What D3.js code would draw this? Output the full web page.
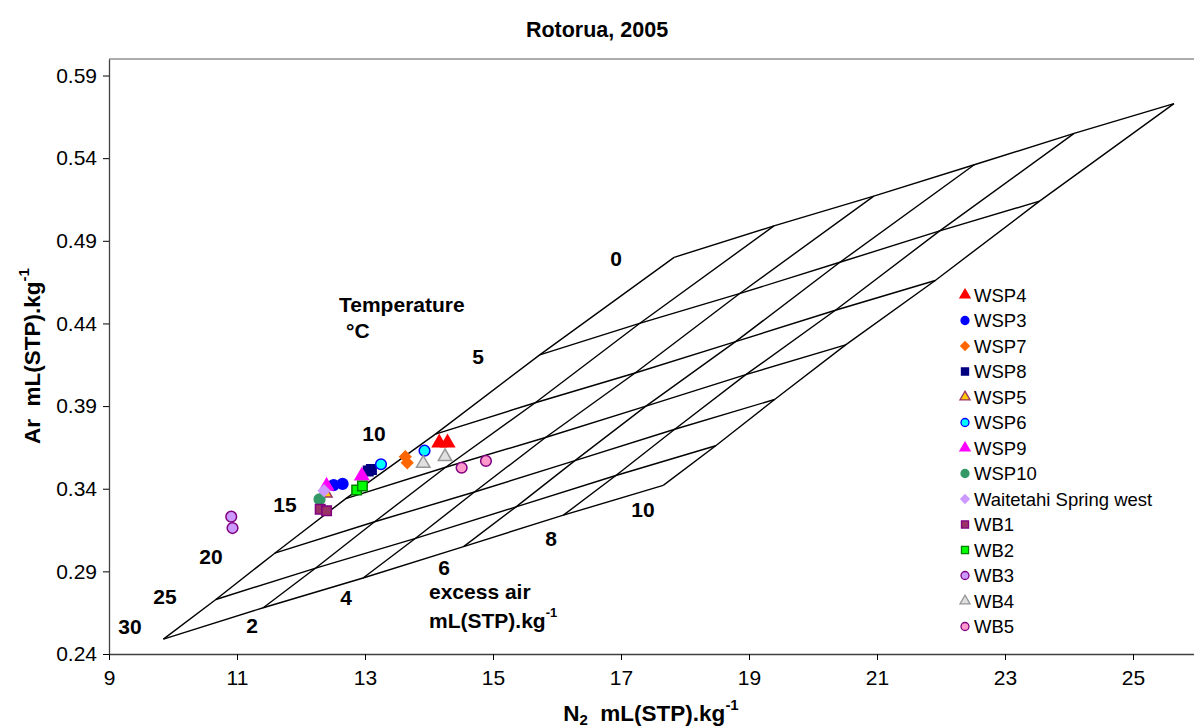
<!DOCTYPE html>
<html>
<head>
<meta charset="utf-8">
<script src="https://d3js.org/d3.v7.min.js"></script>
<style>
  body { margin: 0; background: #fff; }
  text { font-family: "Liberation Sans", Arial, sans-serif; white-space: pre; }
</style>
</head>
<body>
<svg id="chart" width="1194" height="727"></svg>
<script>
// grid: temperature (rows) x excess air (columns)
var tempC = [0, 5, 10, 15, 20, 25, 30];
var excessAir = [0, 2, 4, 6, 8, 10];
var n2Grid = [
  [17.83, 19.39, 20.95, 22.52, 24.08, 25.64],
  [15.73, 17.29, 18.85, 20.42, 21.98, 23.54],
  [14.10, 15.66, 17.22, 18.79, 20.35, 21.91],
  [12.70, 14.26, 15.82, 17.39, 18.95, 20.51],
  [11.59, 13.15, 14.71, 16.28, 17.84, 19.40],
  [10.67, 12.23, 13.79, 15.36, 16.92, 18.48],
  [9.85, 11.41, 12.97, 14.54, 16.10, 17.66]
];
var arGrid = [
  [0.480, 0.499, 0.517, 0.536, 0.555, 0.573],
  [0.421, 0.440, 0.458, 0.477, 0.496, 0.514],
  [0.373, 0.392, 0.410, 0.429, 0.448, 0.466],
  [0.334, 0.353, 0.371, 0.390, 0.409, 0.427],
  [0.301, 0.320, 0.338, 0.357, 0.376, 0.394],
  [0.273, 0.292, 0.310, 0.329, 0.348, 0.366],
  [0.249, 0.268, 0.286, 0.305, 0.324, 0.342]
];

// samples
var seriesNames = ["WSP4", "WSP3", "WSP7", "WSP8", "WSP5", "WSP6", "WSP9", "WSP10",
  "Waitetahi Spring west", "WB1", "WB2", "WB3", "WB4", "WB5"];
var seriesN2 = [
  [14.16, 14.29],
  [12.51, 12.65],
  [13.63, 13.66],
  [13.05, 13.10],
  [12.38],
  [13.93, 13.25],
  [12.95, 12.40],
  [12.29],
  [12.36],
  [12.30, 12.40],
  [12.87, 12.96],
  [10.91, 10.93],
  [13.91, 14.25],
  [14.51, 14.89]
];
var seriesAr = [
  [0.3678, 0.3678],
  [0.3422, 0.3429],
  [0.3594, 0.3557],
  [0.3507, 0.3517],
  [0.3374],
  [0.3630, 0.3548],
  [0.3477, 0.3416],
  [0.3336],
  [0.3388],
  [0.3276, 0.3267],
  [0.3392, 0.3416],
  [0.3231, 0.3162],
  [0.3554, 0.3594],
  [0.3527, 0.3568]
];

var xTicks = [9, 11, 13, 15, 17, 19, 21, 23, 25];
var yTicks = [0.24, 0.29, 0.34, 0.39, 0.44, 0.49, 0.54, 0.59];

// marker styles
var styles = {
  "WSP4": {shape: "tri", fill: "#FF0000", stroke: "#FF0000"},
  "WSP3": {shape: "circle", fill: "#0000FF", stroke: "#0000FF"},
  "WSP7": {shape: "diamond", fill: "#FF6600", stroke: "#FF6600"},
  "WSP8": {shape: "square", fill: "#000080", stroke: "#000080"},
  "WSP5": {shape: "tri", fill: "#FFCC00", stroke: "#993366"},
  "WSP6": {shape: "circle", fill: "#00FFFF", stroke: "#0000FF"},
  "WSP9": {shape: "tri", fill: "#FF00FF", stroke: "#FF00FF"},
  "WSP10": {shape: "circle", fill: "#339966", stroke: "#339966"},
  "Waitetahi Spring west": {shape: "diamond", fill: "#CC99FF", stroke: "#CC99FF"},
  "WB1": {shape: "square", fill: "#993366", stroke: "#800080"},
  "WB2": {shape: "square", fill: "#00FF00", stroke: "#008000"},
  "WB3": {shape: "circle", fill: "#CC99FF", stroke: "#800080"},
  "WB4": {shape: "tri", fill: "#E0E0E0", stroke: "#969696"},
  "WB5": {shape: "circle", fill: "#FF99CC", stroke: "#800080"}
};

var svg = d3.select("#chart");

var x = d3.scaleLinear().domain([9, 26]).range([109, 1197]);
var y = d3.scaleLinear().domain([0.24, 0.60]).range([654, 59]);

// plot frame top
svg.append("line")
  .attr("x1", x(9)).attr("x2", 1194)
  .attr("y1", y(0.60)).attr("y2", y(0.60))
  .attr("stroke", "#909090").attr("stroke-width", 1.5);

// axes
var xAxis = svg.append("g")
  .attr("transform", "translate(0," + y(0.24) + ")")
  .call(d3.axisBottom(x).tickValues(xTicks).tickSize(6).tickSizeOuter(0).tickFormat(d3.format("d")));
var yAxis = svg.append("g")
  .attr("transform", "translate(" + x(9) + ",0)")
  .call(d3.axisLeft(y).tickValues(yTicks).tickSize(6).tickSizeOuter(0).tickFormat(d3.format(".2f")));

[xAxis, yAxis].forEach(function(a) {
  a.select(".domain").attr("stroke", "#404040").attr("stroke-width", 1.3);
  a.selectAll(".tick line").attr("stroke", "#000");
  a.selectAll(".tick text").attr("fill", "#000").style("font-size", "21px")
    .style("font-family", "'Liberation Sans', Arial, sans-serif");
});
xAxis.selectAll(".tick text").attr("dy", "1.05em");
yAxis.selectAll(".tick text").attr("x", -12);
xAxis.select(".domain").attr("d", "M" + x(9) + ",0.5H1194");

// grid lines
var line = d3.line().x(function(d) { return x(d[0]); }).y(function(d) { return y(d[1]); });
var grid = svg.append("g").attr("fill", "none").attr("stroke", "#000").attr("stroke-width", 1.4);
tempC.forEach(function(t, i) {
  grid.append("path").attr("d", line(excessAir.map(function(e, j) { return [n2Grid[i][j], arGrid[i][j]]; })));
});
excessAir.forEach(function(e, j) {
  grid.append("path").attr("d", line(tempC.map(function(t, i) { return [n2Grid[i][j], arGrid[i][j]]; })));
});

// grid annotations
var ann = svg.append("g").style("font-weight", "bold").style("font-size", "21px").attr("fill", "#000");
function label(txt, px, py, anchor) {
  return ann.append("text").attr("x", px).attr("y", py).attr("text-anchor", anchor || "middle")
    .attr("dominant-baseline", "central").text(txt);
}
var tLabelPos = [[616, 258], [478, 356], [374, 433], [285, 504], [211, 556], [165, 596], [130, 626]];
tempC.forEach(function(t, i) { label(String(t), tLabelPos[i][0], tLabelPos[i][1]); });
var eLabelPos = [null, [252, 625], [346, 597], [444, 567], [551, 538], [643, 509]];
excessAir.forEach(function(e, j) { if (eLabelPos[j]) label(String(e), eLabelPos[j][0], eLabelPos[j][1]); });
label("Temperature", 339, 304, "start");
label("\u00B0C", 346, 330, "start");
label("excess air", 429, 591, "start");
var ea = ann.append("text").attr("x", 429).attr("y", 620).attr("dominant-baseline", "central");
ea.append("tspan").text("mL(STP).kg");
ea.append("tspan").text("-1").attr("dy", -8).style("font-size", "13px");

// markers
function symbolFor(shape, size) {
  var t = shape === "tri" ? d3.symbolTriangle : shape === "circle" ? d3.symbolCircle : d3.symbolSquare;
  return d3.symbol().type(t).size(size)();
}
function markerSize(shape, big) {
  if (shape === "diamond") return big ? 62 : 36;
  if (shape === "tri") return big ? 78 : 44;
  if (shape === "square") return big ? 90 : 50;
  return big ? 90 : 50;
}
var pts = svg.append("g");
seriesNames.forEach(function(name, s) {
  var st = styles[name];
  seriesN2[s].forEach(function(n, k) {
    pts.append("path")
      .attr("d", symbolFor(st.shape, markerSize(st.shape, true)))
      .attr("transform", "translate(" + x(n) + "," + y(seriesAr[s][k]) + ")" + (st.shape === "diamond" ? " rotate(45)" : ""))
      .attr("fill", st.fill).attr("stroke", st.stroke).attr("stroke-width", 1.5);
  });
});

// legend
var leg = svg.append("g");
seriesNames.forEach(function(name, s) {
  var st = styles[name];
  var ly = 295 + s * 25.5;
  leg.append("path")
    .attr("d", symbolFor(st.shape, markerSize(st.shape, false)))
    .attr("transform", "translate(965," + ly + ")" + (st.shape === "diamond" ? " rotate(45)" : ""))
    .attr("fill", st.fill).attr("stroke", st.stroke).attr("stroke-width", 1.3);
  leg.append("text").attr("x", 974).attr("y", ly).attr("dominant-baseline", "central")
    .style("font-size", "18.5px").text(name);
});

// titles
svg.append("text").attr("x", 597).attr("y", 30).attr("text-anchor", "middle")
  .attr("dominant-baseline", "central").style("font-size", "21.5px").style("font-weight", "bold")
  .text("Rotorua, 2005");

var xt = svg.append("text").attr("x", 651).attr("y", 713).attr("text-anchor", "middle")
  .attr("dominant-baseline", "central").style("font-size", "22.5px").style("font-weight", "bold");
xt.append("tspan").text("N");
xt.append("tspan").text("2").attr("dy", 6).style("font-size", "15px");
xt.append("tspan").text("  mL(STP).kg").attr("dy", -6);
xt.append("tspan").text("-1").attr("dy", -9).style("font-size", "15px");

var yt = svg.append("text").attr("transform", "translate(32,356) rotate(-90)")
  .attr("text-anchor", "middle").attr("dominant-baseline", "central")
  .style("font-size", "22.5px").style("font-weight", "bold");
yt.append("tspan").text("Ar  mL(STP).kg");
yt.append("tspan").text("-1").attr("dy", -9).style("font-size", "15px");
</script>
</body>
</html>
